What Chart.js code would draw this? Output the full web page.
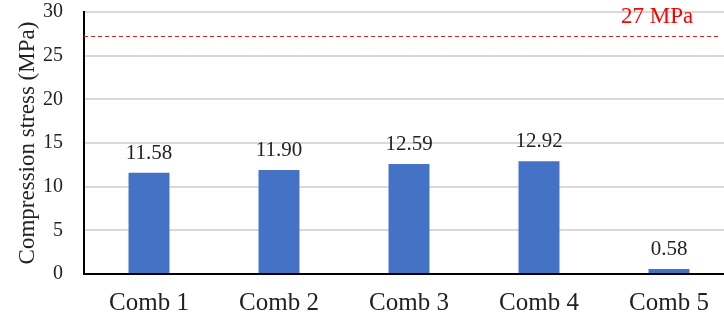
<!DOCTYPE html>
<html>
<head>
<meta charset="utf-8">
<script src="https://cdn.jsdelivr.net/npm/chart.js@4/dist/chart.umd.min.js"></script>
<style>
  html, body { margin: 0; padding: 0; background: #fff; overflow: hidden; }
  #wrap { width: 736px; height: 320px; }
</style>
</head>
<body>
<div id="wrap"><canvas id="c"></canvas></div>
<script>
const categories = ['Comb 1', 'Comb 2', 'Comb 3', 'Comb 4', 'Comb 5'];
const stress = [11.58, 11.90, 12.59, 12.92, 0.58];
const limitValue = 27.3;
const limitLabel = '27 MPa';
const FONT = "'Liberation Serif', 'Times New Roman', serif";

// value labels over each bar
const barLabels = {
  id: 'barLabels',
  afterDatasetsDraw(chart) {
    const { ctx } = chart;
    const meta = chart.getDatasetMeta(0);
    ctx.save();
    ctx.font = `21px ${FONT}`;
    ctx.fillStyle = '#222';
    ctx.textAlign = 'center';
    ctx.textBaseline = 'alphabetic';
    meta.data.forEach((bar, i) => {
      ctx.fillText(stress[i].toFixed(2), bar.x, bar.y - 14);
    });
    ctx.restore();
  }
};

// dashed red limit line + its label
const limitLine = {
  id: 'limitLine',
  afterDatasetsDraw(chart) {
    const { ctx, chartArea } = chart;
    const y = chart.scales.y.getPixelForValue(limitValue);
    ctx.save();
    ctx.strokeStyle = '#e02020';
    ctx.lineWidth = 1;
    ctx.setLineDash([4, 3]);
    ctx.beginPath();
    ctx.moveTo(chartArea.left, Math.round(y) + 0.5);
    ctx.lineTo(719, Math.round(y) + 0.5);
    ctx.stroke();
    ctx.setLineDash([]);
    ctx.font = `23px ${FONT}`;
    ctx.fillStyle = '#ff0000';
    ctx.textAlign = 'left';
    ctx.textBaseline = 'alphabetic';
    ctx.fillText(limitLabel, 621, 23);
    ctx.restore();
  }
};

new Chart(document.getElementById('c'), {
  type: 'bar',
  data: {
    labels: categories,
    datasets: [{
      data: stress,
      backgroundColor: '#4472c4',
      borderWidth: 0,
      barPercentage: 0.315,
      categoryPercentage: 1
    }]
  },
  options: {
    responsive: true,
    maintainAspectRatio: false,
    animation: false,
    layout: { padding: { top: 12, right: 2, left: 0, bottom: 0 } },
    plugins: { legend: { display: false }, tooltip: { enabled: false } },
    scales: {
      x: {
        grid: { display: false, drawTicks: false },
        border: { color: '#000', width: 2 },
        ticks: { color: '#222', font: { family: FONT, size: 25 }, padding: 14 },
        afterFit: s => { s.height = 46; s.paddingLeft = 0; s.paddingRight = 0; }
      },
      y: {
        min: 0, max: 30,
        ticks: { stepSize: 5, color: '#222', font: { family: FONT, size: 20 }, padding: 21 },
        grid: { color: '#d9d9d9', lineWidth: 2, drawTicks: false },
        border: { color: '#000', width: 2 },
        title: { display: true, text: 'Compression stress (MPa)', color: '#222', font: { family: FONT, size: 23 }, padding: { top: 14, bottom: 0 } },
        afterFit: s => { s.width = 84; s.paddingTop = 0; s.paddingBottom = 0; }
      }
    }
  },
  plugins: [barLabels, limitLine]
});
</script>
</body>
</html>
